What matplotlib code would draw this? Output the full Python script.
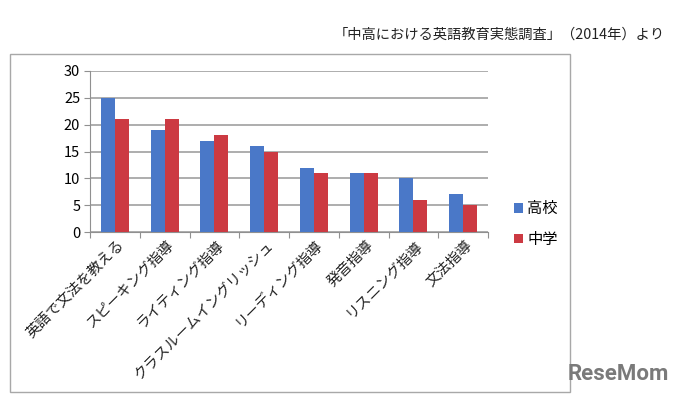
import numpy as np
import matplotlib
matplotlib.use("Agg")
import matplotlib.pyplot as plt
from matplotlib.patches import Rectangle

plt.rcParams['font.family'] = ['Noto Sans CJK JP', 'DejaVu Sans']

categories = ["英語で文法を教える", "スピーキング指導", "ライティング指導", "クラスルームイングリッシュ",
              "リーディング指導", "発音指導", "リスニング指導", "文法指導"]
high_school = [25, 19, 17, 16, 12, 11, 10, 7]
junior_high = [21, 21, 18, 15, 11, 11, 6, 5]
series_names = ["高校", "中学"]
yticks = [0, 5, 10, 15, 20, 25, 30]

W, H = 680, 397
fig = plt.figure(figsize=(6.8, 3.97), dpi=100)

# outer chart frame
fig.patches.append(Rectangle((10 / W, 1 - 392 / H), 560 / W, 338 / H, transform=fig.transFigure,
                             fill=False, edgecolor="#a8a8a8", linewidth=1.0))

ax = fig.add_axes([90 / W, 1 - 232 / H, 398 / W, 161 / H])
x = np.arange(len(categories))
w = 0.28
ax.bar(x - w / 2, high_school, width=w, color="#4a78c8", label=series_names[0], zorder=3)
ax.bar(x + w / 2, junior_high, width=w, color="#cc3a42", label=series_names[1], zorder=3)

ax.set_xlim(-0.5, len(categories) - 0.5)
ax.set_ylim(0, 30)
ax.set_yticks(yticks)
ax.yaxis.grid(True, color="#a0a0a0", linewidth=1.2, zorder=0)
for s in ["top", "right"]:
    ax.spines[s].set_visible(False)
ax.spines["left"].set_color("#909090")
ax.spines["bottom"].set_color("#909090")
ax.tick_params(axis="y", length=4, color="#909090", labelsize=10.5, pad=3)

# ticks between categories
ax.set_xticks(np.arange(len(categories) + 1) - 0.5)
ax.set_xticklabels([])
ax.tick_params(axis="x", length=4, color="#909090")
for i, lab in enumerate(categories):
    ax.text(i + 0.15, -2.0, lab, rotation=45, rotation_mode="anchor", ha="right", va="center",
            fontsize=10.5, color="#222222")

ax.legend(loc="center left", bbox_to_anchor=(1.03, 0.05), frameon=False, fontsize=11,
          handlelength=0.6, handleheight=0.6, handletextpad=0.3, labelspacing=0.9)

fig.text(665 / W, 1 - 35 / H, "「中高における英語教育実態調査」（2014年）より", ha="right", va="center",
         fontsize=10.3, color="#222222")
fig.text(618 / W, 1 - 374 / H, "ReseMom", ha="center", va="center", fontsize=16,
         fontweight="bold", color="#7a7a7a", family=["Roboto", "DejaVu Sans"])

fig.savefig("out.png", dpi=100)
